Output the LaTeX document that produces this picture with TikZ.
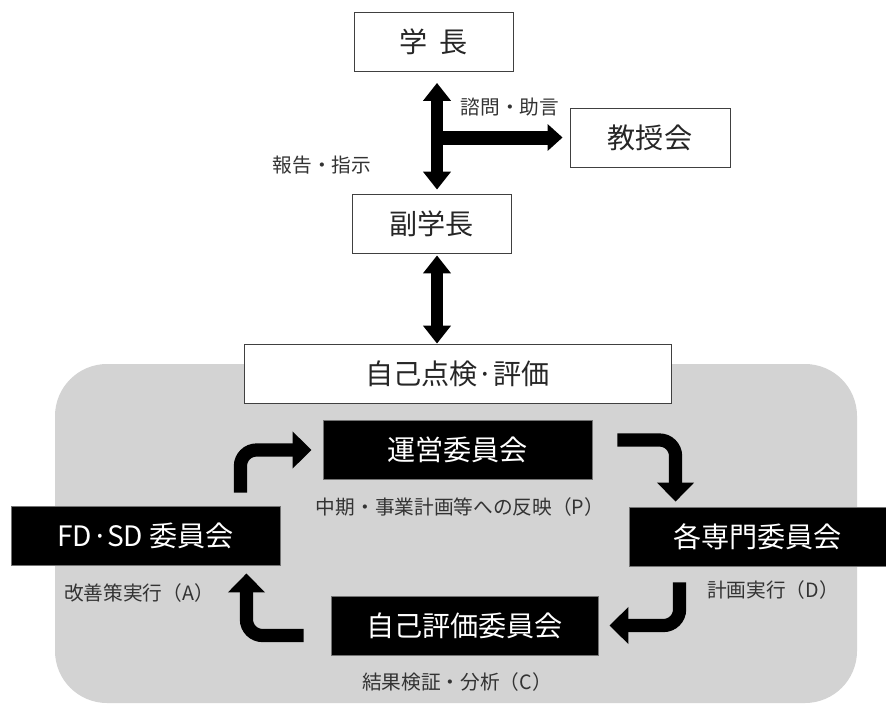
\documentclass[tikz,border=0pt]{standalone}
\usepackage{fontspec}
\setmainfont{Noto Sans CJK JP}
\usetikzlibrary{arrows.meta}
\definecolor{panel}{RGB}{211,211,211}

\begin{document}
\begin{tikzpicture}[x=0.025cm, y=-0.025cm,
	white box/.style={draw=black!75, line width=0.6pt, fill=white, text=black!85, minimum width=3.975cm, minimum height=1.475cm, inner sep=0pt, font=\fontsize{20}{24}\selectfont},
	black box/.style={draw=black!55, line width=0.6pt, fill=black, text=white, minimum width=6.725cm, minimum height=1.475cm, inner sep=0pt, font=\fontsize{20}{24}\selectfont},
	note/.style={text=black!80, inner sep=0pt, font=\fontsize{14}{17}\selectfont},
	link/.style={line width=0.3cm, {Triangle[width=0.675cm,length=0.45cm]}-{Triangle[width=0.675cm,length=0.45cm]}},
	turn arrow/.style={line width=0.33cm, rounded corners=0.4cm, -{Triangle[width=0.9cm,length=0.475cm]}}]
	\useasboundingbox (0,0) rectangle (886,704);

	% Panel
	\fill[panel, rounded corners=1.3cm] (55,364) rectangle (857,703);

	% Top
	\node[white box] (gakucho) at (433.5,42) {学\hspace{0.4em}長};
	\node[white box, minimum width=4cm] (kyoju) at (650,137.5) {教授会};
	\node[white box] (fuku) at (431.5,223.5) {副学長};
	\coordinate (split) at (437,137.5);

	\draw[link, shorten <=0.275cm, shorten >=0.1cm] (gakucho.south -| split) -- (fuku.north -| split);
	\draw[line width=0.35cm, -{Triangle[width=0.65cm,length=0.375cm]}, shorten >=0.175cm] (split) -- (kyoju.west);
	\draw (510,107) node[note] (lbl advise) {諮問・助言};
	\draw (322,165) node[note] (lbl report) {報告・指示};

	\node[white box, minimum width=10.675cm] (tenken) at (457.5,373.5) {自己点検·評価};
	\draw[link, shorten <=0.05cm] (fuku.south -| split) -- (tenken.north -| split);

	% Committees
	\node[black box] (unei) at (457.5,450) {運営委員会};
	\node[black box] (fdsd) at (145.5,535.5) {FD·SD 委員会};
	\node[black box, minimum width=6.425cm] (senmon) at (757.5,536.5) {各専門委員会};
	\node[black box, minimum width=6.675cm] (hyoka) at (464.5,625.5) {自己評価委員会};

	\draw (460,507) node[note] (lbl p) {中期・事業計画等への反映（P）};
	\draw (773,590) node[note] (lbl d) {計画実行（D）};
	\draw (457,682) node[note] (lbl c) {結果検証・分析（C）};
	\draw (139,593) node[note] (lbl a) {改善策実行（A）};

	% Cycle
	\draw[turn arrow, shorten <=0.325cm, shorten >=0.275cm] ([xshift=-1cm]fdsd.north east) |- (unei.west);
	\draw[turn arrow, shorten <=0.625cm, shorten >=0.125cm] ([yshift=0.25cm]unei.east) -| ([xshift=1.175cm]senmon.north west);
	\draw[turn arrow, shorten <=0.4cm, shorten >=0.275cm] ([xshift=1.275cm]senmon.south west) |- (hyoka.east);
	\draw[turn arrow, shorten <=0.675cm, shorten >=0.2cm] ([yshift=-0.25cm]hyoka.west) -| ([xshift=-0.85cm]fdsd.south east);
\end{tikzpicture}
\end{document}
